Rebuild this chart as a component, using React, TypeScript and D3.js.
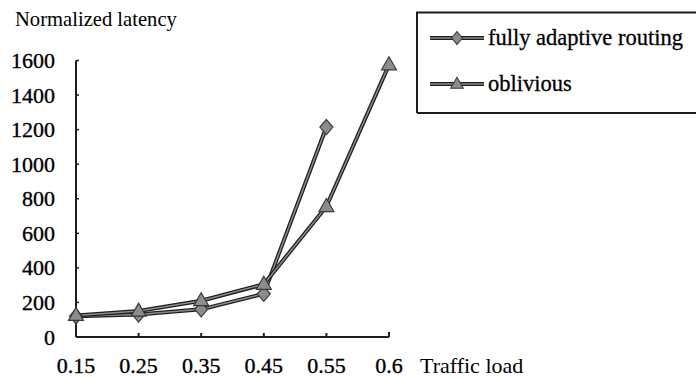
import React from 'react';
import * as d3 from 'd3';

const categories = ['0.15', '0.25', '0.35', '0.45', '0.55', '0.6'];
const adaptiveValues: (number | null)[] = [120, 130, 160, 250, 1215, null];
const obliviousValues: (number | null)[] = [125, 150, 210, 305, 755, 1575];
const yTickValues = [0, 200, 400, 600, 800, 1000, 1200, 1400, 1600];
const seriesNames = ['fully adaptive routing', 'oblivious'];
const yTitle = 'Normalized latency';
const xTitle = 'Traffic load';

const W = 696;
const H = 378;
const DARK = '#1e1e1e';
const GRAY = '#8c8c8c';

const diamondPath = 'M0,-7.5L6.5,0L0,7.5L-6.5,0Z';
const trianglePath = 'M0,-8L7.5,5L-7.5,5Z';

const css = `.chart-text { font-family: 'Tinos', 'Liberation Serif', 'Times New Roman', 'Nimbus Roman'; }`;

export default function App() {
  const x = d3.scalePoint<string>().domain(categories).range([76, 389]);
  const y = d3.scaleLinear().domain([0, 1600]).range([337, 60.5]);

  const line = d3
    .line<number | null>()
    .defined((d) => d != null)
    .x((_, i) => x(categories[i]) as number)
    .y((d) => y(d as number));

  const series = [
    { name: seriesNames[0], values: adaptiveValues, marker: diamondPath },
    { name: seriesNames[1], values: obliviousValues, marker: trianglePath },
  ];

  const x0 = x.range()[0];
  const x1 = x.range()[1];
  const y0 = y.range()[0];
  const yTop = y.range()[1];

  return (
    <svg width={W} height={H} style={{ position: 'absolute', left: 0, top: 0 }}>
      <style>{css}</style>
      <text className="chart-text" x={15} y={26} fontSize={20.6}>
        {yTitle}
      </text>
      <line x1={x0} y1={yTop} x2={x0} y2={y0} stroke={DARK} strokeWidth={2} />
      <line x1={x0} y1={y0} x2={x1} y2={y0} stroke={DARK} strokeWidth={2} />
      <line x1={x1} y1={y0} x2={x1} y2={y0 - 5} stroke={DARK} strokeWidth={2} />
      {yTickValues.map((t) => (
        <g key={t}>
          <line x1={x0} x2={x0 + 3} y1={y(t)} y2={y(t)} stroke={DARK} strokeWidth={1.5} />
          <text className="chart-text" x={55} y={y(t) + 7.5} textAnchor="end" fontSize={22} stroke="#000" strokeWidth={0.35}>
            {t}
          </text>
        </g>
      ))}
      {categories.map((c) => (
        <g key={c}>
          <line x1={x(c)} x2={x(c)} y1={y0} y2={y0 - 4} stroke={DARK} strokeWidth={2} />
          <text className="chart-text" x={x(c) as number} y={373} textAnchor="middle" fontSize={22} stroke="#000" strokeWidth={0.35}>
            {c}
          </text>
        </g>
      ))}
      <text className="chart-text" x={420} y={373} fontSize={22}>
        {xTitle}
      </text>
      {series.map((s) => (
        <g key={s.name}>
          <path d={line(s.values) || ''} fill="none" stroke={DARK} strokeWidth={4} strokeLinejoin="round" />
          <path d={line(s.values) || ''} fill="none" stroke={GRAY} strokeWidth={1.5} strokeLinejoin="round" />
        </g>
      ))}
      {series.map((s) =>
        s.values.map((v, i) =>
          v == null ? null : (
            <path
              key={s.name + i}
              d={s.marker}
              transform={`translate(${x(categories[i])},${y(v)})`}
              fill={GRAY}
              stroke="#3a3a3a"
              strokeWidth={1.2}
            />
          )
        )
      )}
      <g>
        <path
          d={`M417,113 L417,12.5 L${W},12.5 M417,113 L${W},113`}
          fill="none"
          stroke={DARK}
          strokeWidth={2}
        />
        {series.map((s, i) => {
          const ly = 38 + i * 46;
          return (
            <g key={s.name}>
              <line x1={430} x2={484} y1={ly} y2={ly} stroke={DARK} strokeWidth={4} />
              <line x1={430} x2={484} y1={ly} y2={ly} stroke={GRAY} strokeWidth={1.5} />
              <path
                d={s.marker}
                transform={`translate(457,${ly}) scale(0.85)`}
                fill={GRAY}
                stroke="#3a3a3a"
                strokeWidth={1.2}
              />
              <text className="chart-text" x={488} y={ly + 7} fontSize={22.5} stroke="#000" strokeWidth={0.3}>
                {s.name}
              </text>
            </g>
          );
        })}
      </g>
    </svg>
  );
}
